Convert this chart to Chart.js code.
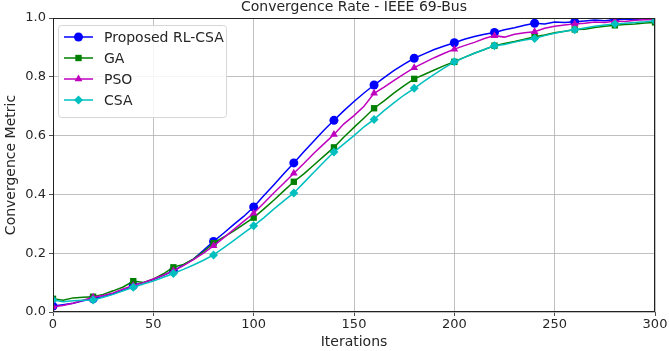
<!DOCTYPE html>
<html>
<head>
<meta charset="utf-8">
<script src="https://cdn.jsdelivr.net/npm/chart.js@4.4.0/dist/chart.umd.min.js"></script>
<style>
  body { margin: 0; background: #fff; }
  #wrap { width: 669px; height: 351px; }
</style>
</head>
<body>
<div id="wrap"><canvas id="convChart" width="669" height="351"></canvas></div>
<script>
// iterations sampled every 5 steps, markers drawn every 20
const iterations = [
  0, 5, 10, 15, 20, 25, 30, 35, 40, 45, 50, 55, 60, 65, 70, 75, 80, 85, 90, 95,
  100, 105, 110, 115, 120, 125, 130, 135, 140, 145, 150, 155, 160, 165, 170, 175, 180, 185, 190, 195,
  200, 205, 210, 215, 220, 225, 230, 235, 240, 245, 250, 255, 260, 265, 270, 275, 280, 285, 290, 295, 300
];

const rlCsa = [
  0.020, 0.025, 0.030, 0.038, 0.045, 0.052, 0.062, 0.075, 0.090, 0.100, 0.110, 0.125, 0.140, 0.160, 0.180, 0.210, 0.240, 0.268, 0.297, 0.325,
  0.357, 0.395, 0.432, 0.470, 0.507, 0.545, 0.582, 0.618, 0.652, 0.685, 0.716, 0.745, 0.772, 0.797, 0.822, 0.843, 0.863, 0.878, 0.893, 0.905,
  0.916, 0.928, 0.937, 0.945, 0.951, 0.960, 0.967, 0.975, 0.982, 0.980, 0.986, 0.985, 0.987, 0.990, 0.993, 0.991, 0.995, 0.997, 0.995, 0.998, 1.000
];

const ga = [
  0.045, 0.040, 0.048, 0.050, 0.052, 0.060, 0.072, 0.085, 0.105, 0.100, 0.112, 0.130, 0.152, 0.162, 0.180, 0.205, 0.234, 0.255, 0.275, 0.298,
  0.321, 0.350, 0.380, 0.412, 0.443, 0.470, 0.500, 0.530, 0.560, 0.595, 0.628, 0.660, 0.693, 0.718, 0.745, 0.770, 0.793, 0.808, 0.823, 0.838,
  0.851, 0.866, 0.880, 0.893, 0.906, 0.913, 0.920, 0.928, 0.936, 0.942, 0.950, 0.955, 0.961, 0.962, 0.968, 0.972, 0.975, 0.978, 0.980, 0.983, 0.985
];

const pso = [
  0.018, 0.022, 0.030, 0.040, 0.050, 0.056, 0.065, 0.078, 0.090, 0.100, 0.112, 0.125, 0.140, 0.158, 0.178, 0.200, 0.225, 0.252, 0.280, 0.308,
  0.336, 0.370, 0.405, 0.438, 0.472, 0.505, 0.540, 0.572, 0.604, 0.640, 0.668, 0.700, 0.744, 0.765, 0.788, 0.810, 0.831, 0.848, 0.865, 0.880,
  0.894, 0.906, 0.917, 0.930, 0.940, 0.935, 0.945, 0.950, 0.953, 0.965, 0.972, 0.976, 0.980, 0.982, 0.986, 0.985, 0.990, 0.988, 0.992, 0.994, 0.995
];

const csa = [
  0.041, 0.035, 0.038, 0.040, 0.041, 0.050, 0.060, 0.072, 0.084, 0.095, 0.105, 0.118, 0.131, 0.145, 0.160, 0.176, 0.194, 0.218, 0.243, 0.268,
  0.293, 0.320, 0.350, 0.378, 0.405, 0.440, 0.475, 0.510, 0.544, 0.572, 0.600, 0.630, 0.655, 0.685, 0.712, 0.738, 0.761, 0.785, 0.808, 0.830,
  0.851, 0.866, 0.880, 0.893, 0.906, 0.910, 0.918, 0.925, 0.930, 0.940, 0.948, 0.955, 0.960, 0.966, 0.972, 0.976, 0.980, 0.982, 0.985, 0.987, 0.990
];

const seriesNames = ["Proposed RL-CSA", "GA", "PSO", "CSA"];
const seriesColors = ["#0000ff", "#008000", "#bf00bf", "#00bfbf"];
const seriesMarkers = ["circle", "rect", "triangle", "rectRot"];
const xTicks = [0, 50, 100, 150, 200, 250, 300];
const yTicks = [0, 0.2, 0.4, 0.6, 0.8, 1.0];

const FONT = "'DejaVu Sans', sans-serif";
const TEXT = "#262626";

const toPoints = (vals) => vals.map((v, i) => ({ x: iterations[i], y: v }));

const datasets = [rlCsa, ga, pso, csa].map((vals, i) => ({
  label: seriesNames[i],
  data: toPoints(vals),
  borderColor: seriesColors[i],
  backgroundColor: seriesColors[i],
  borderWidth: 1.5,
  pointStyle: seriesMarkers[i],
  pointRadius: (ctx) => (ctx.raw && ctx.raw.x % 20 === 0 ? 4.5 : 0),
  pointBorderWidth: 0,
  tension: 0,
  order: 3 - i,
}));

// frame, title and matplotlib-like legend box
const extras = {
  id: "extras",
  afterDatasetsDraw(chart) {
    const { ctx, chartArea: a } = chart;
    ctx.save();
    ctx.strokeStyle = "#222";
    ctx.lineWidth = 1;
    ctx.strokeRect(a.left + 0.5, a.top + 0.5, a.right - a.left - 1, a.bottom - a.top - 1);

    // legend
    const lx = 58, ly = 25, lw = 168, lh = 92;
    ctx.fillStyle = "rgba(255,255,255,0.85)";
    ctx.strokeStyle = "#d6d6d6";
    ctx.beginPath();
    ctx.roundRect(lx + 0.5, ly + 0.5, lw, lh, 3);
    ctx.fill();
    ctx.stroke();
    ctx.font = "14px " + FONT;
    ctx.textBaseline = "middle";
    ctx.textAlign = "left";
    seriesNames.forEach((name, i) => {
      const y = 37 + i * 21;
      ctx.strokeStyle = seriesColors[i];
      ctx.lineWidth = 1.5;
      ctx.beginPath();
      ctx.moveTo(64, y);
      ctx.lineTo(93, y);
      ctx.stroke();
      ctx.fillStyle = seriesColors[i];
      Chart.helpers.drawPoint(ctx, { pointStyle: seriesMarkers[i], radius: 4.5, rotation: 0, borderWidth: 0 }, 78.5, y);
      ctx.fillStyle = TEXT;
      ctx.fillText(name, 104, y + 1);
    });

    ctx.font = "14px " + FONT;
    ctx.textAlign = "center";
    ctx.fillStyle = TEXT;
    ctx.fillText("Convergence Rate - IEEE 69-Bus", 354, 7);
    ctx.restore();
  },
};

new Chart(document.getElementById("convChart"), {
  type: "line",
  data: { datasets },
  plugins: [extras],
  options: {
    responsive: false,
    animation: false,
    layout: { padding: { top: 18, right: 14, left: 0, bottom: 0 } },
    plugins: {
      legend: { display: false },
      tooltip: { enabled: false },
    },
    scales: {
      x: {
        type: "linear",
        min: 0,
        max: 300,
        afterBuildTicks: (s) => { s.ticks = xTicks.map((v) => ({ value: v })); },
        afterFit: (s) => { s.height = 39; },
        grid: { color: "#b0b0b0", lineWidth: 0.8, tickLength: 4, tickColor: "#222" },
        border: { display: false },
        ticks: { color: TEXT, font: { family: FONT, size: 13 }, padding: 1, maxRotation: 0 },
        title: { display: true, text: "Iterations", color: TEXT, font: { family: FONT, size: 14 }, padding: { top: 3, bottom: 0 } },
      },
      y: {
        type: "linear",
        min: 0,
        max: 1,
        afterBuildTicks: (s) => { s.ticks = yTicks.map((v) => ({ value: v })); },
        afterFit: (s) => { s.width = 53; },
        grid: { color: "#b0b0b0", lineWidth: 0.8, tickLength: 4, tickColor: "#222" },
        border: { display: false },
        ticks: { color: TEXT, font: { family: FONT, size: 13 }, padding: 3, callback: (v) => v.toFixed(1) },
        title: { display: true, text: "Convergence Metric", color: TEXT, font: { family: FONT, size: 14 }, padding: { top: 3, bottom: 0 } },
      },
    },
  },
});
</script>
</body>
</html>
